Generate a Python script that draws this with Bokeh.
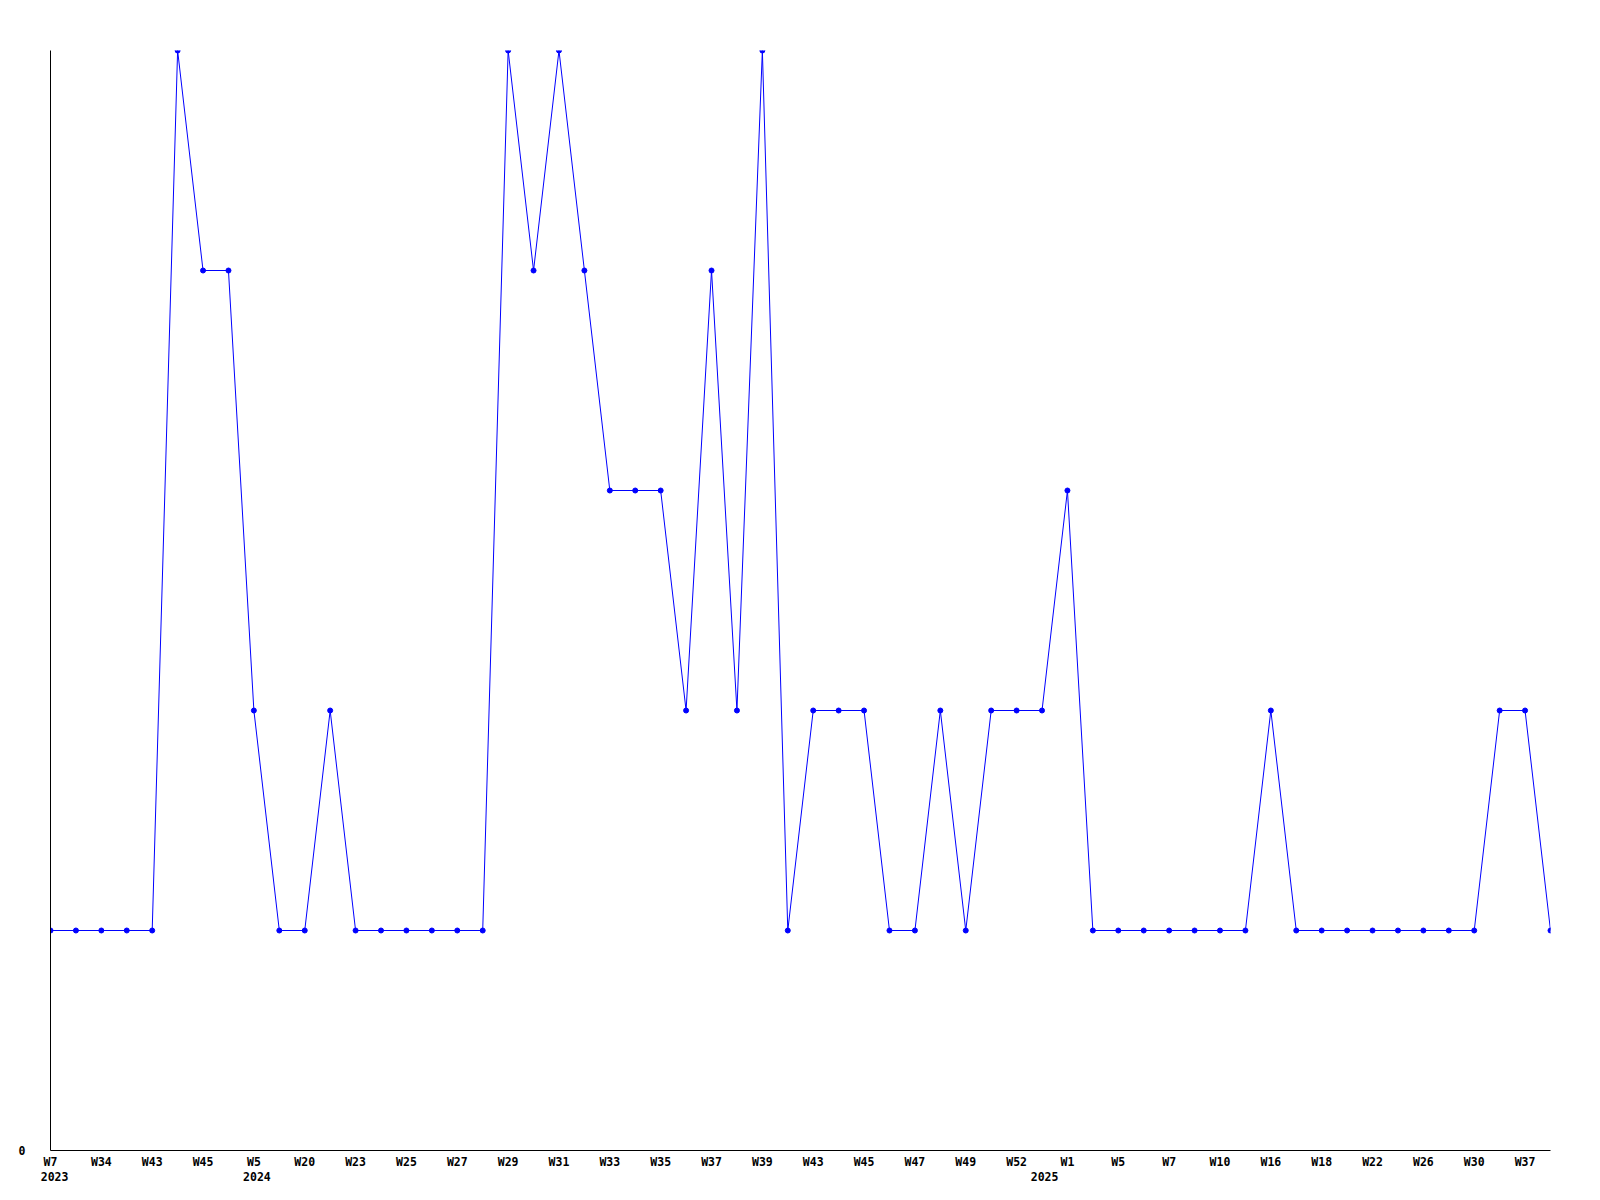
from bokeh.plotting import figure
from bokeh.models import Range1d, FixedTicker, LinearAxis, ColumnDataSource
from bokeh.embed import file_html
from bokeh.resources import INLINE

# ---- data ----
values = [1, 1, 1, 1, 1, 5, 4, 4, 2, 1,
          1, 2, 1, 1, 1, 1, 1, 1, 5, 4,
          5, 4, 3, 3, 3, 2, 4, 2, 5, 1,
          2, 2, 2, 1, 1, 2, 1, 2, 2, 2,
          3, 1, 1, 1, 1, 1, 1, 1, 2, 1,
          1, 1, 1, 1, 1, 1, 1, 2, 2, 1]
week_labels = ["W7", "W34", "W43", "W45", "W5", "W20", "W23", "W25", "W27", "W29",
               "W31", "W33", "W35", "W37", "W39", "W43", "W45", "W47", "W49", "W52",
               "W1", "W5", "W7", "W10", "W16", "W18", "W22", "W26", "W30", "W37"]
year_labels = ["2023", "2024", "2025"]
year_week_index = [0, 8, 40]   # index of the point where each year label sits

x = list(range(len(values)))
labeled_idx = x[::2]
src = ColumnDataSource(data=dict(x=x, y=values))

FONT = "DejaVu Sans Mono"
FSIZE = "11.5px"

p = figure(frame_width=1500, frame_height=1100,
           min_border_left=50, min_border_top=50,
           min_border_right=34, min_border_bottom=40,
           x_range=Range1d(0, len(values) - 1), y_range=Range1d(0, 5),
           output_backend="svg", toolbar_location=None,
           background_fill_color="white", border_fill_color="white")
p.outline_line_color = None
p.xgrid.visible = False
p.ygrid.visible = False

p.line("x", "y", source=src, line_color="#0000ff", line_width=1)
p.scatter("x", "y", source=src, marker="circle", size=5,
          fill_color="#0000ff", line_color="#0000ff")

# y axis: only the 0 label
ya = p.yaxis[0]
ya.ticker = FixedTicker(ticks=[0])
ya.major_tick_line_color = None
ya.minor_tick_line_color = None
ya.major_tick_out = 0
ya.major_tick_in = 0
ya.major_label_standoff = 25
ya.axis_line_color = "black"
ya.major_label_text_font = FONT
ya.major_label_text_font_style = "bold"
ya.major_label_text_font_size = FSIZE
ya.major_label_text_color = "black"

# x axis: week labels
xa = p.xaxis[0]
xa.ticker = FixedTicker(ticks=labeled_idx)
xa.major_label_overrides = {i: lbl for i, lbl in zip(labeled_idx, week_labels)}
xa.major_tick_line_color = None
xa.minor_tick_line_color = None
xa.major_tick_out = 0
xa.major_tick_in = 0
xa.major_label_standoff = 4
xa.axis_line_color = "black"
xa.major_label_text_font = FONT
xa.major_label_text_font_style = "bold"
xa.major_label_text_font_size = FSIZE
xa.major_label_text_color = "black"

# second row: years
year_shift = [0.16, 0.12, -0.9]
year_pos = [i + s for i, s in zip(year_week_index, year_shift)]
ya2 = LinearAxis(ticker=FixedTicker(ticks=year_pos),
                 major_label_overrides={pos: lbl for pos, lbl in zip(year_pos, year_labels)},
                 axis_line_color=None, major_tick_line_color=None,
                 minor_tick_line_color=None, major_tick_out=0, major_tick_in=0,
                 major_label_standoff=0,
                 major_label_text_font=FONT, major_label_text_font_style="bold",
                 major_label_text_font_size=FSIZE, major_label_text_color="black")
p.add_layout(ya2, "below")

open("out.html", "w").write(file_html(p, INLINE))
